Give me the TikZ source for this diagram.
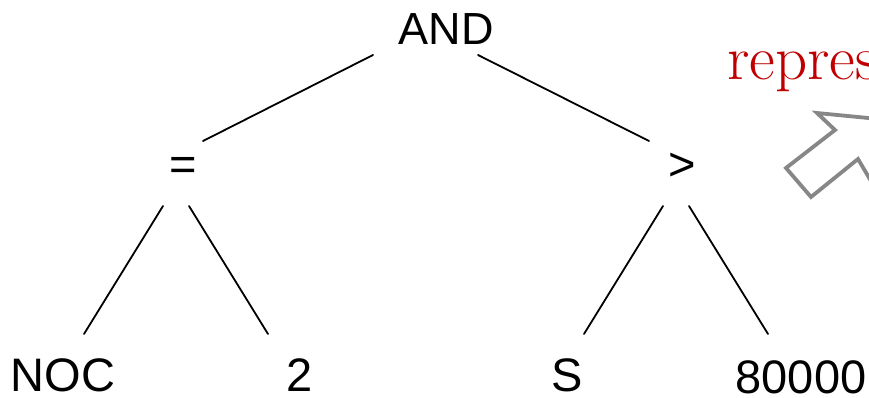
\documentclass[tikz,border=0pt]{standalone}
\usepackage{fontspec}
\newfontfamily\treefont{Liberation Sans}
\usetikzlibrary{positioning}
\definecolor{hintred}{HTML}{C00000}
\definecolor{pointergray}{HTML}{878787}

\begin{document}
\begin{tikzpicture}[
            x=1pt, y=-1pt,
            on grid,
            term/.style={
                inner sep=0pt,
                text height=34pt,
                text depth=0pt,
                font=\treefont\fontsize{47}{50}\selectfont
            },
            edge/.style={line width=1.8pt, line cap=round}
        ]
        \useasboundingbox (0,0) rectangle (869,398);

        \node[term, text height=32.4pt, font=\treefont\fontsize{45}{48}\selectfont] (and) at (446,28) {AND};

        \node[term, below left=136pt and 263pt of and] (eq) {=};
        \node[term, below right=136pt and 236pt of and] (gt) {>};

        \node[term, below left=210pt and 120pt of eq] (noc) {NOC};
        \node[term, below right=210pt and 117pt of eq] (two) {2};
        \node[term, below left=210pt and 115pt of gt] (s) {S};
        \node[term, below right=212pt and 119pt of gt] (eighty) {80000};

        \node[anchor=base west, text=hintred, inner sep=0pt,
              font=\fontsize{63}{66}\selectfont] (hint) at (727,80) {repres};

        \draw[edge] ([shift={(-73,27)}]and.center) -- ([shift={(20,-23)}]eq.center);
        \draw[edge] ([shift={(32,27)}]and.center) -- ([shift={(-33,-23)}]gt.center);
        \draw[edge] ([shift={(-20,42)}]eq.center) -- ([shift={(21,-40)}]noc.center);
        \draw[edge] ([shift={(6,42)}]eq.center) -- ([shift={(-32,-40)}]two.center);
        \draw[edge] ([shift={(-19,42)}]gt.center) -- ([shift={(17,-40)}]s.center);
        \draw[edge] ([shift={(7,42)}]gt.center) -- ([shift={(-33,-42)}]eighty.center);

        % hollow pointer, runs off the right edge
        \draw[pointergray, line width=3.8pt, line join=miter]
            (786,168) -- (835,130) -- (817,113) -- (878.5,119)
            -- (870.6,180.4) -- (858,159) -- (811,197) -- cycle;
        \end{tikzpicture}
\end{document}
